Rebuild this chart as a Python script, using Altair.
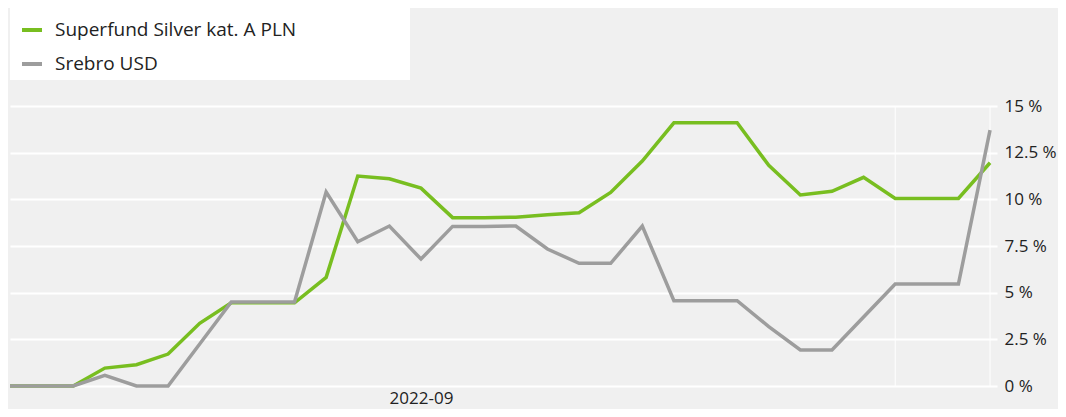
import altair as alt
import pandas as pd

idx = list(range(32))
fund_name = "Superfund Silver kat. A PLN"
silver_name = "Srebro USD"
fund = [0, 0, 0, 0.96, 1.14, 1.71, 3.36, 4.46, 4.46, 4.46, 5.82, 11.25, 11.1, 10.6,
        9.02, 9.02, 9.04, 9.18, 9.28, 10.37, 12.05, 14.1, 14.1, 14.1, 11.82, 10.23,
        10.43, 11.18, 10.05, 10.05, 10.05, 11.96]
silver = [0, 0, 0, 0.57, 0, 0, 2.25, 4.5, 4.5, 4.5, 10.39, 7.73, 8.57, 6.8, 8.55,
          8.55, 8.57, 7.34, 6.57, 6.57, 8.57, 4.57, 4.57, 4.57, 3.18, 1.93, 1.93,
          3.7, 5.46, 5.46, 5.46, 13.71]
x_label_idx = [13]
x_label_text = "2022-09"
vgrid_idx = [28, 31]
y_ticks = [0, 2.5, 5, 7.5, 10, 12.5, 15]

GREEN = "#78be20"
GRAY = "#9d9d9d"
FONT = "Open Sans"
TXT = "#222222"

df_f = pd.DataFrame({"i": idx, "v": fund, "s": fund_name})
df_s = pd.DataFrame({"i": idx, "v": silver, "s": silver_name})
df_g = pd.DataFrame({"i": vgrid_idx})

xs = alt.Scale(domain=[0, 31.22], nice=False, zero=False)
ys = alt.Scale(domain=[0, 15], nice=False)
cs = alt.Scale(domain=[fund_name, silver_name], range=[GREEN, GRAY])

xaxis = alt.Axis(values=x_label_idx, labelExpr=f"'{x_label_text}'", grid=False,
                 ticks=False, domain=False, title=None, labelFontSize=17,
                 labelPadding=4, labelColor=TXT, labelFont=FONT)
yaxis = alt.Axis(values=y_ticks, orient="right", labelExpr="datum.value + ' %'",
                 grid=True, gridColor="white", gridWidth=2, ticks=False,
                 domain=False, title=None, labelFontSize=17, labelPadding=7,
                 labelColor=TXT, labelFont=FONT)

bgbox = alt.Chart(pd.DataFrame({"a": [0]})).mark_rect(color="white").encode(
    x=alt.value(0), x2=alt.value(400), y=alt.value(-98), y2=alt.value(-26))

vgrid = alt.Chart(df_g).mark_rule(color="white", strokeWidth=1).encode(
    x=alt.X("i:Q", scale=xs, axis=xaxis))

legend = alt.Legend(orient="none", legendX=0, legendY=-98, title=None,
                    symbolType="stroke", symbolStrokeWidth=4, symbolSize=400,
                    labelFontSize=19, labelFont=FONT, labelColor=TXT,
                    labelOffset=11, rowPadding=12, padding=10, labelLimit=400)

line_f = alt.Chart(df_f).mark_line(strokeWidth=3.5).encode(
    x=alt.X("i:Q", scale=xs, axis=xaxis),
    y=alt.Y("v:Q", scale=ys, axis=yaxis),
    color=alt.Color("s:N", scale=cs, legend=legend))
line_s = alt.Chart(df_s).mark_line(strokeWidth=3.5).encode(
    x=alt.X("i:Q", scale=xs, axis=xaxis),
    y=alt.Y("v:Q", scale=ys, axis=yaxis),
    color=alt.Color("s:N", scale=cs, legend=legend))

chart = alt.layer(bgbox, vgrid, line_f, line_s).properties(
    width=987, height=280,
    autosize=alt.AutoSizeParams(type="none"),
    padding={"left": 2, "top": 98, "right": 61, "bottom": 23},
    background="#f0f0f0",
).configure_view(stroke=None)

chart.save("out.html", embed_options={"renderer": "svg", "actions": False})
